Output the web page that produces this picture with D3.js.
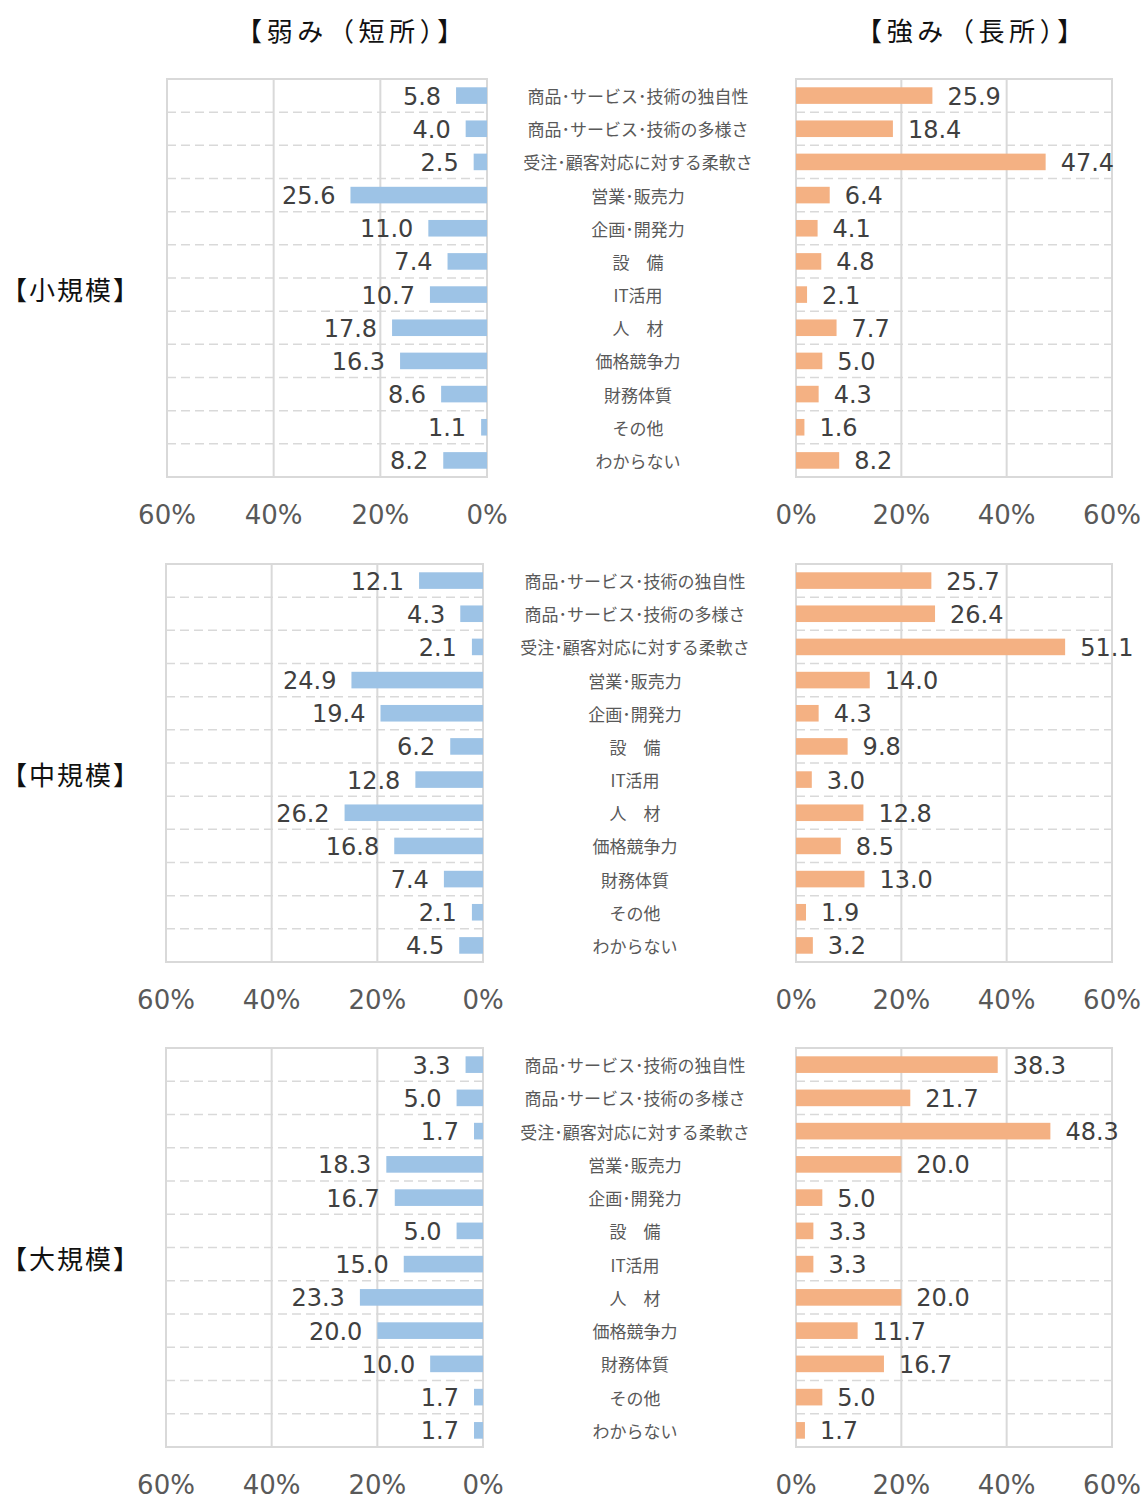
<!DOCTYPE html>
<html><head><meta charset="utf-8">
<script src="https://cdn.jsdelivr.net/npm/d3@7"></script>
<style>
body{margin:0;background:#fff;}
svg{display:block;}
</style></head>
<body>
<script>
const categories = ["商品･サービス･技術の独自性","商品･サービス･技術の多様さ","受注･顧客対応に対する柔軟さ","営業･販売力","企画･開発力","設　備","IT活用","人　材","価格競争力","財務体質","その他","わからない"];
const groups = ["【小規模】","【中規模】","【大規模】"];
const smallWeak = [5.8,4.0,2.5,25.6,11.0,7.4,10.7,17.8,16.3,8.6,1.1,8.2];
const smallStrong = [25.9,18.4,47.4,6.4,4.1,4.8,2.1,7.7,5.0,4.3,1.6,8.2];
const midWeak = [12.1,4.3,2.1,24.9,19.4,6.2,12.8,26.2,16.8,7.4,2.1,4.5];
const midStrong = [25.7,26.4,51.1,14.0,4.3,9.8,3.0,12.8,8.5,13.0,1.9,3.2];
const largeWeak = [3.3,5.0,1.7,18.3,16.7,5.0,15.0,23.3,20.0,10.0,1.7,1.7];
const largeStrong = [38.3,21.7,48.3,20.0,5.0,3.3,3.3,20.0,11.7,16.7,5.0,1.7];
const tickValues = [0,20,40,60];
const titles = ["【弱み（短所）】","【強み（長所）】"];

const W = 1144, H = 1499;
const svg = d3.select("body").append("svg").attr("width", W).attr("height", H);

const GRID = "#d9d9d9";
const BLUE = "#9dc3e6", ORANGE = "#f4b183";
const NUMFONT = "'DejaVu Sans', Verdana, sans-serif";
const JPFONT = "'Noto Sans CJK JP', sans-serif";

// titles
svg.append("text").attr("x", 352).attr("y", 29).attr("text-anchor","middle").attr("dominant-baseline","central")
  .attr("font-family", JPFONT).attr("font-size", 26).attr("fill","#111")
  .attr("letter-spacing", 4.6).text(titles[0]);
svg.append("text").attr("x", 972).attr("y", 29).attr("text-anchor","middle").attr("dominant-baseline","central")
  .attr("font-family", JPFONT).attr("font-size", 26).attr("fill","#111")
  .attr("letter-spacing", 4.6).text(titles[1]);

const panels = [
  {weak: smallWeak, strong: smallStrong, top: 79, bottom: 477, lx0: 167, lx1: 487, rx0: 796, rx1: 1112, cx: 638},
  {weak: midWeak, strong: midStrong, top: 564, bottom: 962, lx0: 166, lx1: 483, rx0: 796, rx1: 1112, cx: 635},
  {weak: largeWeak, strong: largeStrong, top: 1048, bottom: 1447, lx0: 166, lx1: 483, rx0: 796, rx1: 1112, cx: 635}
];

panels.forEach((p, pi) => {
  const g = svg.append("g");
  const y = d3.scaleBand().domain(categories).range([p.top, p.bottom]).paddingInner(0.5).paddingOuter(0.25);
  const yb = d3.scaleBand().domain(categories).range([p.top, p.bottom]);
  const xl = d3.scaleLinear().domain([0, 60]).range([p.lx1, p.lx0]);
  const xr = d3.scaleLinear().domain([0, 60]).range([p.rx0, p.rx1]);

  [[xl, p.lx0, p.lx1, p.weak, BLUE, "left"], [xr, p.rx0, p.rx1, p.strong, ORANGE, "right"]].forEach(([x, x0, x1, vals, color, side]) => {
    // dashed row separators
    g.selectAll(null).data(categories.slice(1)).enter().append("line")
      .attr("x1", x0).attr("x2", x1)
      .attr("y1", d => yb(d)).attr("y2", d => yb(d))
      .attr("stroke", GRID).attr("stroke-width", 1.5).attr("stroke-dasharray", "9,5");
    // vertical gridlines
    g.selectAll(null).data(tickValues).enter().append("line")
      .attr("x1", d => x(d)).attr("x2", d => x(d))
      .attr("y1", p.top).attr("y2", p.bottom)
      .attr("stroke", GRID).attr("stroke-width", 2);
    // top & bottom border
    g.append("line").attr("x1", x0 - 1).attr("x2", x1 + 1).attr("y1", p.top).attr("y2", p.top).attr("stroke", GRID).attr("stroke-width", 2);
    g.append("line").attr("x1", x0 - 1).attr("x2", x1 + 1).attr("y1", p.bottom).attr("y2", p.bottom).attr("stroke", GRID).attr("stroke-width", 2);
    // bars
    g.selectAll(null).data(vals).enter().append("rect")
      .attr("x", d => Math.min(x(0), x(d)))
      .attr("width", d => Math.abs(x(d) - x(0)))
      .attr("y", (d, i) => y(categories[i]))
      .attr("height", y.bandwidth())
      .attr("fill", color);
    // value labels
    g.selectAll(null).data(vals).enter().append("text")
      .attr("x", d => side === "left" ? x(d) - 15 : x(d) + 15)
      .attr("y", (d, i) => yb(categories[i]) + yb.bandwidth() / 2 + 1)
      .attr("text-anchor", side === "left" ? "end" : "start")
      .attr("dominant-baseline", "central")
      .attr("font-family", NUMFONT).attr("font-size", 24).attr("fill", "#404040")
      .text(d => d.toFixed(1));
    // tick labels
    g.selectAll(null).data(tickValues).enter().append("text")
      .attr("x", d => x(d)).attr("y", p.bottom + 38)
      .attr("text-anchor", "middle").attr("dominant-baseline", "central")
      .attr("font-family", NUMFONT).attr("font-size", 26).attr("fill", "#595959")
      .text(d => d + "%");
  });

  // category labels
  g.selectAll(null).data(categories).enter().append("text")
    .attr("x", p.cx).attr("y", d => yb(d) + yb.bandwidth() / 2)
    .attr("text-anchor", "middle").attr("dominant-baseline", "central")
    .attr("font-family", JPFONT).attr("font-size", 17).attr("fill", "#595959")
    .text(d => d);

  // group label
  g.append("text").attr("x", 71).attr("y", (p.top + p.bottom) / 2 + 10)
    .attr("text-anchor", "middle").attr("dominant-baseline", "central")
    .attr("font-family", JPFONT).attr("font-size", 26).attr("fill", "#111")
    .attr("letter-spacing", 2)
    .text(groups[pi]);
});
</script>
</body></html>
